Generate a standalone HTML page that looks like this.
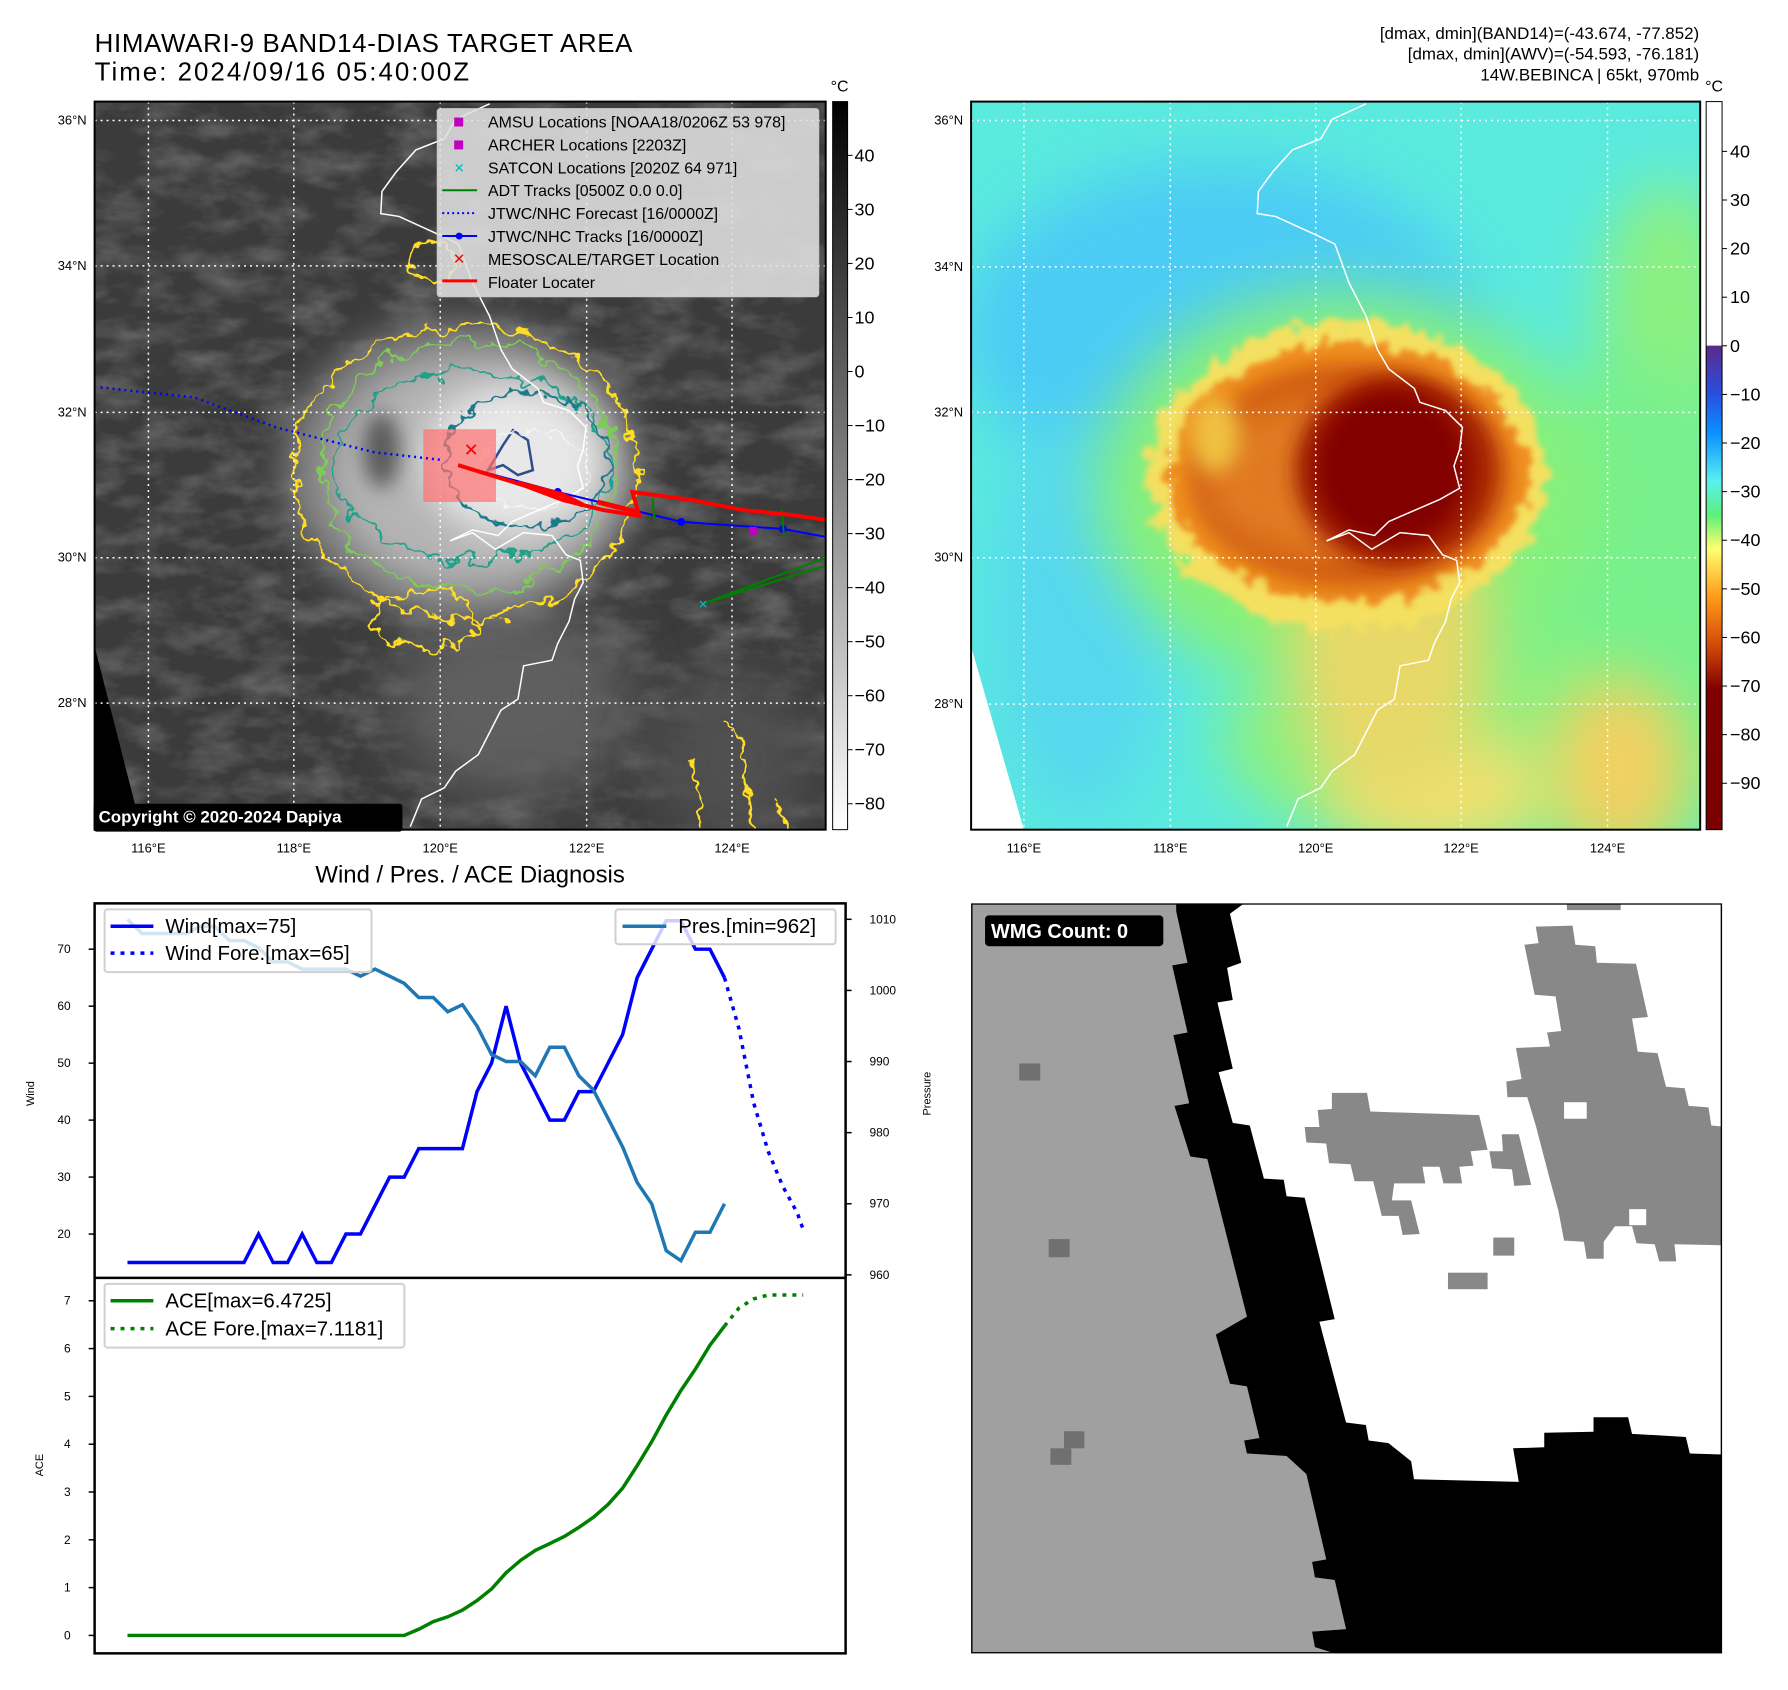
<!DOCTYPE html>
<html><head><meta charset="utf-8"><style>
html,body{margin:0;padding:0;background:#fff;}
svg{display:block;font-family:"Liberation Sans","DejaVu Sans",sans-serif;}
</style></head><body>
<svg id="root" width="1788" height="1690" viewBox="0 0 1788 1690" xmlns="http://www.w3.org/2000/svg">
<defs>
  <filter id="b30" x="-50%" y="-50%" width="200%" height="200%"><feGaussianBlur stdDeviation="30"/></filter>
  <filter id="b18" x="-50%" y="-50%" width="200%" height="200%"><feGaussianBlur stdDeviation="18"/></filter>
  <filter id="b10" x="-50%" y="-50%" width="200%" height="200%"><feGaussianBlur stdDeviation="10"/></filter>
  <filter id="rough" x="-20%" y="-20%" width="140%" height="140%">
    <feTurbulence type="fractalNoise" baseFrequency="0.05" numOctaves="3" seed="3" result="n"/>
    <feDisplacementMap in="SourceGraphic" in2="n" scale="30" xChannelSelector="R" yChannelSelector="G"/>
  </filter>
  <filter id="rough2" x="-20%" y="-20%" width="140%" height="140%">
    <feTurbulence type="fractalNoise" baseFrequency="0.08" numOctaves="2" seed="7" result="n"/>
    <feDisplacementMap in="SourceGraphic" in2="n" scale="18" xChannelSelector="R" yChannelSelector="G"/>
  </filter>
  <filter id="roughBlur" x="-30%" y="-30%" width="160%" height="160%">
    <feTurbulence type="fractalNoise" baseFrequency="0.06" numOctaves="3" seed="5" result="n"/>
    <feDisplacementMap in="SourceGraphic" in2="n" scale="34" xChannelSelector="R" yChannelSelector="G" result="d"/>
    <feGaussianBlur in="d" stdDeviation="3"/>
  </filter>
  <filter id="noise" x="0" y="0" width="100%" height="100%">
    <feTurbulence type="fractalNoise" baseFrequency="0.02 0.04" numOctaves="4" seed="11"/>
    <feColorMatrix type="matrix" values="0 0 0 0 1  0 0 0 0 1  0 0 0 0 1  0 0 0 0.45 -0.18"/>
  </filter>
  <linearGradient id="cbGray" x1="0" y1="0" x2="0" y2="1">
    <stop offset="0" stop-color="#000"/><stop offset="1" stop-color="#fff"/>
  </linearGradient>
  <linearGradient id="cbJet" x1="0" y1="0" x2="0" y2="1">
    <stop offset="0" stop-color="#5a2a8c"/>
    <stop offset="0.1" stop-color="#2a4ee0"/>
    <stop offset="0.18" stop-color="#0a90ff"/>
    <stop offset="0.28" stop-color="#58f0f0"/>
    <stop offset="0.35" stop-color="#5cf07a"/>
    <stop offset="0.42" stop-color="#ffff70"/>
    <stop offset="0.52" stop-color="#ff9a18"/>
    <stop offset="0.62" stop-color="#d04a08"/>
    <stop offset="0.71" stop-color="#800000"/>
    <stop offset="1" stop-color="#7a0000"/>
  </linearGradient>
  <clipPath id="clipL"><rect x="0" y="0" width="734" height="731"/></clipPath>
  <clipPath id="clipR"><rect x="0" y="0" width="732" height="731"/></clipPath>
</defs>
<g transform="scale(0.996)">

<text x="95" y="52" font-size="26" textLength="540">HIMAWARI-9 BAND14-DIAS TARGET AREA</text>
<text x="95" y="81" font-size="26" textLength="376">Time: 2024/09/16 05:40:00Z</text>
<text x="1706" y="39" font-size="17" text-anchor="end">[dmax, dmin](BAND14)=(-43.674, -77.852)</text>
<text x="1706" y="60" font-size="17" text-anchor="end">[dmax, dmin](AWV)=(-54.593, -76.181)</text>
<text x="1706" y="81" font-size="17" text-anchor="end">14W.BEBINCA | 65kt, 970mb</text>

<g transform="translate(95,102)">
 <g clip-path="url(#clipL)">
  <rect width="734" height="731" fill="#3b3b3b"/>
  <rect width="734" height="731" filter="url(#noise)"/>
  <ellipse cx="420" cy="600" rx="120" ry="100" fill="#5e5e5e" filter="url(#b30)"/>
  <ellipse cx="640" cy="660" rx="80" ry="90" fill="#505050" filter="url(#b30)"/>
  <ellipse cx="368" cy="370" rx="180" ry="150" fill="#7e7e7e" filter="url(#b18)"/>
  <ellipse cx="380" cy="372" rx="145" ry="118" fill="#b4b4b4" filter="url(#b18)"/>
  <ellipse cx="420" cy="360" rx="90" ry="75" fill="#e8e8e8" filter="url(#b18)"/>
  <ellipse cx="288" cy="350" rx="18" ry="38" fill="#5a5a5a" filter="url(#b10)"/>
  <ellipse cx="372" cy="372" rx="172" ry="148" fill="none" stroke="#ffdd22" stroke-width="2.5" filter="url(#rough)"/>
  <ellipse cx="340" cy="160" rx="22" ry="20" fill="none" stroke="#ffdd22" stroke-width="2.5" filter="url(#rough2)"/>
  <ellipse cx="330" cy="520" rx="50" ry="30" fill="none" stroke="#ffdd22" stroke-width="2.5" filter="url(#rough)"/>
  <path d="M630 620 L650 640 L660 731 M600 660 L610 731 M680 700 L700 731" fill="none" stroke="#ffdd22" stroke-width="2.5" filter="url(#rough2)"/>
  <ellipse cx="376" cy="366" rx="150" ry="125" fill="none" stroke="#7ccc55" stroke-width="2.5" filter="url(#rough)"/>
  <ellipse cx="380" cy="366" rx="140" ry="95" fill="none" stroke="#24a08a" stroke-width="2.5" filter="url(#rough)"/>
  <ellipse cx="434" cy="360" rx="82" ry="68" fill="none" stroke="#1f7a8c" stroke-width="2.5" filter="url(#rough2)"/>
  <path d="M395 370 L410 345 L420 330 L435 340 L440 370 L425 375 L410 365 Z" fill="none" stroke="#2f4d8c" stroke-width="2.5"/>
  <ellipse cx="440" cy="370" rx="55" ry="40" fill="none" stroke="#f4f4f4" stroke-width="1.5" filter="url(#rough2)"/>
  <polygon points="0,547 47,731 0,731" fill="#000"/>
  <polyline id="coastL" fill="none" stroke="#fff" stroke-width="1.5"/>
  <g stroke="#fff" stroke-width="1.5" stroke-dasharray="2 4">
   <line x1="54" y1="0" x2="54" y2="731"/><line x1="200" y1="0" x2="200" y2="731"/><line x1="347" y1="0" x2="347" y2="731"/><line x1="494" y1="0" x2="494" y2="731"/><line x1="640" y1="0" x2="640" y2="731"/>
   <line x1="0" y1="19" x2="734" y2="19"/><line x1="0" y1="165" x2="734" y2="165"/><line x1="0" y1="312" x2="734" y2="312"/><line x1="0" y1="458" x2="734" y2="458"/><line x1="0" y1="604" x2="734" y2="604"/>
  </g>
  <rect x="330" y="329" width="73" height="73" fill="#ff7070" fill-opacity="0.7"/>
  <polyline points="6,287 100,297 182,327 280,352 350,360" fill="none" stroke="#0000ff" stroke-width="2.5" stroke-dasharray="2 4"/>
  <polyline points="365,365 465,392 589,422 691,429 734,437" fill="none" stroke="#0000ff" stroke-width="2"/>
  <g fill="#0000ff"><circle cx="465" cy="392" r="4"/><circle cx="589" cy="422" r="4"/><circle cx="691" cy="429" r="4"/></g>
  <path d="M611,504 L734,458 M611,504 L734,466 M560,398 L562,420 M690,410 L692,435" fill="none" stroke="#008000" stroke-width="2"/>
  <polyline points="365,365 430,385 470,400 510,410 547,416 540,392 600,400 650,410 700,415 734,420" fill="none" stroke="#ff0000" stroke-width="4"/>
  <path d="M425,383 L470,395 L490,405 M505,402 L545,412" stroke="#ff0000" stroke-width="5" fill="none"/>
  <text x="378" y="356" font-size="18" fill="#ff0000" font-weight="bold" text-anchor="middle">✕</text>
  <rect x="657" y="427" width="8" height="8" fill="#c000c0"/>
  <text x="611" y="509" font-size="12" fill="#00c0c0" text-anchor="middle" font-weight="bold">✕</text>
 </g>
 <rect x="0" y="0" width="734" height="731" fill="none" stroke="#000" stroke-width="2"/>
 <g>
  <rect x="344" y="7" width="383" height="189" rx="3" fill="#e0e0e0" fill-opacity="0.88" stroke="#ccc"/>
  <g font-size="16">
   <rect x="361" y="16" width="9" height="9" fill="#c000c0"/><text x="395" y="26">AMSU Locations [NOAA18/0206Z 53 978]</text>
   <rect x="361" y="39" width="9" height="9" fill="#c000c0"/><text x="395" y="49">ARCHER Locations [2203Z]</text>
   <text x="366" y="71" font-size="13" fill="#00b8b8" text-anchor="middle" font-weight="bold">✕</text><text x="395" y="72">SATCON Locations [2020Z 64 971]</text>
   <line x1="349" y1="89" x2="384" y2="89" stroke="#008000" stroke-width="2"/><text x="395" y="95">ADT Tracks [0500Z 0.0 0.0]</text>
   <line x1="349" y1="112" x2="384" y2="112" stroke="#0000ff" stroke-width="2" stroke-dasharray="2 3"/><text x="395" y="118">JTWC/NHC Forecast [16/0000Z]</text>
   <line x1="349" y1="135" x2="384" y2="135" stroke="#0000ff" stroke-width="2"/><circle cx="366" cy="135" r="3.5" fill="#0000ff"/><text x="395" y="141">JTWC/NHC Tracks [16/0000Z]</text>
   <text x="366" y="163" font-size="15" fill="#ff0000" text-anchor="middle" font-weight="bold">✕</text><text x="395" y="164">MESOSCALE/TARGET Location</text>
   <line x1="349" y1="180" x2="384" y2="180" stroke="#ff0000" stroke-width="3"/><text x="395" y="187">Floater Locater</text>
  </g>
 </g>
 <rect x="-1" y="705" width="310" height="28" rx="3" fill="#000"/>
 <text x="4" y="724" font-size="17" font-weight="bold" fill="#fff">Copyright © 2020-2024 Dapiya</text>
</g>
<g font-size="13">
 <g text-anchor="end"><text x="87" y="125">36°N</text><text x="87" y="271">34°N</text><text x="87" y="418">32°N</text><text x="87" y="564">30°N</text><text x="87" y="710">28°N</text></g>
 <g text-anchor="middle"><text x="149" y="856">116°E</text><text x="295" y="856">118°E</text><text x="442" y="856">120°E</text><text x="589" y="856">122°E</text><text x="735" y="856">124°E</text></g>
</g>
<g>
 <rect x="836" y="102" width="15" height="731" fill="url(#cbGray)" stroke="#000" stroke-width="1"/>
 <text x="843" y="92" font-size="16" text-anchor="middle">°C</text>
 <g id="cbLticks" font-size="18"></g>
</g>

<g transform="translate(975,102)">
 <g clip-path="url(#clipR)">
  <rect width="732" height="731" fill="#5aeade"/>
  <ellipse cx="250" cy="230" rx="260" ry="170" fill="#4cccf4" filter="url(#b30)"/>
  <ellipse cx="110" cy="520" rx="90" ry="200" fill="#56d8ee" filter="url(#b30)"/>
  <ellipse cx="700" cy="220" rx="70" ry="140" fill="#8cf080" filter="url(#b30)"/>
  <ellipse cx="660" cy="520" rx="140" ry="260" fill="#78f08c" filter="url(#b30)"/>
  <ellipse cx="470" cy="640" rx="220" ry="110" fill="#8cf080" filter="url(#b30)"/>
  <ellipse cx="650" cy="670" rx="70" ry="90" fill="#f2d060" filter="url(#b30)"/>
  <ellipse cx="470" cy="690" rx="110" ry="60" fill="#f0e070" filter="url(#b30)"/>
  <ellipse cx="376" cy="390" rx="250" ry="200" fill="#86f07a" filter="url(#b30)"/>
  <ellipse cx="420" cy="540" rx="100" ry="160" fill="#e8d868" filter="url(#b30)"/>
  <ellipse cx="378" cy="376" rx="200" ry="155" fill="#f4e060" filter="url(#roughBlur)"/>
  <ellipse cx="378" cy="372" rx="180" ry="130" fill="#f09024" filter="url(#roughBlur)"/>
  <ellipse cx="380" cy="375" rx="160" ry="112" fill="#cf5a10" filter="url(#b10)"/>
  <ellipse cx="350" cy="378" rx="120" ry="80" fill="#e07a20" filter="url(#b18)"/>
  <ellipse cx="245" cy="335" rx="25" ry="38" fill="#f0c040" filter="url(#b10)"/>
  <ellipse cx="425" cy="370" rx="100" ry="95" fill="#a01c00" filter="url(#b10)"/>
  <ellipse cx="422" cy="368" rx="75" ry="78" fill="#820000" filter="url(#b10)"/>
  <polygon points="0,547 53,731 0,731" fill="#fff"/>
  <polyline id="coastR" fill="none" stroke="#fff" stroke-width="1.5"/>
  <g stroke="#fff" stroke-width="1.5" stroke-dasharray="2 4">
   <line x1="53" y1="0" x2="53" y2="731"/><line x1="200" y1="0" x2="200" y2="731"/><line x1="346" y1="0" x2="346" y2="731"/><line x1="492" y1="0" x2="492" y2="731"/><line x1="639" y1="0" x2="639" y2="731"/>
   <line x1="0" y1="19" x2="732" y2="19"/><line x1="0" y1="166" x2="732" y2="166"/><line x1="0" y1="312" x2="732" y2="312"/><line x1="0" y1="458" x2="732" y2="458"/><line x1="0" y1="605" x2="732" y2="605"/>
  </g>
 </g>
 <rect x="0" y="0" width="732" height="731" fill="none" stroke="#000" stroke-width="2"/>
</g>
<g font-size="13">
 <g text-anchor="end"><text x="967" y="125">36°N</text><text x="967" y="272">34°N</text><text x="967" y="418">32°N</text><text x="967" y="564">30°N</text><text x="967" y="711">28°N</text></g>
 <g text-anchor="middle"><text x="1028" y="856">116°E</text><text x="1175" y="856">118°E</text><text x="1321" y="856">120°E</text><text x="1467" y="856">122°E</text><text x="1614" y="856">124°E</text></g>
</g>
<g>
 <rect x="1713" y="102" width="16" height="245" fill="#fff"/>
 <rect x="1713" y="347" width="16" height="486" fill="url(#cbJet)"/>
 <rect x="1713" y="102" width="16" height="731" fill="none" stroke="#000" stroke-width="1"/>
 <text x="1721" y="92" font-size="16" text-anchor="middle">°C</text>
 <g id="cbRticks" font-size="18"></g>
</g>

<text x="472" y="886" font-size="24" text-anchor="middle">Wind / Pres. / ACE Diagnosis</text>
<g id="chart">
 <rect x="95" y="907" width="754" height="753" fill="#fff"/>
 <g id="series"></g>
 <line x1="95" y1="1283" x2="849" y2="1283" stroke="#000" stroke-width="2.5"/>
 <rect x="95" y="907" width="754" height="753" fill="none" stroke="#000" stroke-width="2.5"/>
 <g id="axes" font-size="12"></g>
 <text transform="translate(34,1098) rotate(-90)" font-size="11" text-anchor="middle">Wind</text>
 <text transform="translate(934,1098) rotate(-90)" font-size="11" text-anchor="middle">Pressure</text>
 <text transform="translate(43,1471) rotate(-90)" font-size="11" text-anchor="middle">ACE</text>
 <g>
  <rect x="105" y="913" width="268" height="63" rx="3" fill="#fff" fill-opacity="0.8" stroke="#d0d0d0" stroke-width="2"/>
  <line x1="111" y1="930" x2="154" y2="930" stroke="#0000ff" stroke-width="3.5"/>
  <line x1="111" y1="957" x2="154" y2="957" stroke="#0000ff" stroke-width="3.5" stroke-dasharray="4 6"/>
  <text x="166" y="937" font-size="20.5">Wind[max=75]</text>
  <text x="166" y="964" font-size="20.5">Wind Fore.[max=65]</text>
 </g>
 <g>
  <rect x="618" y="913" width="221" height="35" rx="3" fill="#fff" fill-opacity="0.8" stroke="#d0d0d0" stroke-width="2"/>
  <line x1="625" y1="930" x2="669" y2="930" stroke="#1f77b4" stroke-width="3.5"/>
  <text x="681" y="937" font-size="20.5">Pres.[min=962]</text>
 </g>
 <g>
  <rect x="105" y="1289" width="301" height="64" rx="3" fill="#fff" fill-opacity="0.8" stroke="#d0d0d0" stroke-width="2"/>
  <line x1="111" y1="1306" x2="154" y2="1306" stroke="#008000" stroke-width="3.5"/>
  <line x1="111" y1="1334" x2="154" y2="1334" stroke="#008000" stroke-width="3.5" stroke-dasharray="4 6"/>
  <text x="166" y="1313" font-size="20.5">ACE[max=6.4725]</text>
  <text x="166" y="1341" font-size="20.5">ACE Fore.[max=7.1181]</text>
 </g>
</g>

<svg x="975" y="907" width="754" height="753" viewBox="123 45 1326 1452" preserveAspectRatio="none">
 <rect x="123" y="45" width="1326" height="1452" fill="#fff"/>
 <polygon fill="#a0a0a0" points="123,45 485,45 485,60 505,160 478,165 505,295 480,300 508,432 482,437 510,535 540,540 610,845 555,880 580,975 610,980 632,1080 605,1085 610,1110 680,1115 715,1150 750,1315 725,1320 730,1350 765,1355 785,1450 725,1455 730,1485 765,1497 123,1497"/>
 <polygon fill="#000" points="485,45 485,60 505,160 478,165 505,295 480,300 508,432 482,437 510,535 540,540 610,845 555,880 580,975 610,980 632,1080 605,1085 610,1110 680,1115 715,1150 750,1315 725,1320 730,1350 765,1355 785,1450 725,1455 730,1485 765,1497 1449,1497 1449,1112 1392,1110 1385,1078 1290,1072 1283,1040 1222,1040 1222,1068 1135,1070 1135,1098 1080,1100 1090,1165 905,1160 900,1125 860,1090 825,1085 820,1055 785,1050 738,855 765,850 712,615 680,612 675,580 640,578 615,475 585,470 560,372 585,365 558,237 585,232 575,170 600,160 580,65 605,45"/>
 <g fill="#888">
  <rect x="1175" y="45" width="95" height="13"/>
  <polygon points="1120,90 1185,88 1190,125 1225,128 1228,160 1297,162 1318,265 1290,268 1300,332 1335,335 1350,400 1383,403 1390,437 1425,440 1430,475 1449,477 1449,707 1365,705 1368,738 1338,738 1330,705 1298,703 1290,670 1260,670 1240,700 1240,733 1210,733 1205,700 1170,698 1160,640 1145,580 1120,475 1105,420 1070,420 1068,390 1095,385 1085,325 1145,322 1140,295 1165,292 1155,225 1118,222 1100,125 1125,122"/>
  <polygon points="760,412 822,412 828,448 1020,455 1035,522 1005,525 1010,553 985,555 990,587 957,587 950,555 920,555 925,587 870,587 866,620 900,620 915,685 885,687 878,650 848,650 833,583 800,583 793,550 755,548 750,510 715,508 712,478 738,478 735,445 760,443"/>
  <polygon points="1060,492 1090,492 1112,590 1082,592 1078,560 1043,558 1038,525 1062,525"/>
  <rect x="1045" y="692" width="37" height="35"/>
  <rect x="965" y="760" width="70" height="32"/>
 </g>
 <g fill="#fff"><rect x="1170" y="430" width="40" height="32"/><rect x="1285" y="637" width="30" height="31"/></g>
 <g fill="#707070">
  <rect x="208" y="355" width="37" height="33"/><rect x="260" y="695" width="37" height="35"/><rect x="287" y="1067" width="36" height="33"/><rect x="263" y="1100" width="37" height="32"/>
 </g>
 <rect x="123" y="45" width="1326" height="1452" fill="none" stroke="#000" stroke-width="5"/>
</svg>
<rect x="989" y="919" width="179" height="31" rx="4" fill="#000"/>
<text x="995" y="942" font-size="20" font-weight="bold" fill="#fff">WMG Count: 0</text>
</g>
</svg>

<script>
const wind = [15,15,15,15,15,15,15,15,15,20,15,15,20,15,15,20,20,25,30,30,35,35,35,35,45,50,60,50,45,40,40,45,45,50,55,65,70,75,75,70,70,65];
const windFcstT = [41,42,43,44,45,46,46.4];
const windFcst = [65,56,43,34.5,28.4,23.7,20.8];
const pres = [1010,1008,1008,1008,1008,1009,1009,1007,1007,1006,1004,1004,1003,1003,1003,1003,1002,1003,1002,1001,999,999,997,998,995,991,990,990,988,992,992,988,986,982,978,973,970,963.4,962,966,966,970];
const ace = [0,0,0,0,0,0,0,0,0,0,0,0,0,0,0,0,0,0,0,0,0.13,0.29,0.39,0.53,0.73,0.97,1.31,1.57,1.78,1.92,2.07,2.26,2.47,2.74,3.08,3.55,4.05,4.61,5.12,5.57,6.07,6.47];
const aceFcstT = [41,42,43,44,45,46,46.4];
const aceFcst = [6.47,6.85,7.04,7.12,7.12,7.12,7.12];
const windTicks = [20,30,40,50,60,70];
const presTicks = [960,970,980,990,1000,1010];
const aceTicks = [0,1,2,3,4,5,6,7];
const irTicks = [40,30,20,10,0,-10,-20,-30,-40,-50,-60,-70,-80];
const awvTicks = [40,30,20,10,0,-10,-20,-30,-40,-50,-60,-70,-80,-90];

const NS = 'http://www.w3.org/2000/svg';
function xT(t){ return 128 + t*14.62; }
function yW(v){ return 953 + (70 - v)*5.72; }
function yP(p){ return 923 + (1010 - p)*7.14; }
function yA(a){ return 1642 - a*48; }
function yIR(v){ return 156 + (40 - v)*5.425; }
function yAWV(v){ return 152 + (40 - v)*4.88; }

function mk(tag, attrs, parent){
  const e = document.createElementNS(NS, tag);
  for (const k in attrs) e.setAttribute(k, attrs[k]);
  parent.appendChild(e); return e;
}
function pts(ts, vs, fy){ return vs.map((v,i)=>xT(ts?ts[i]:i).toFixed(1)+','+fy(v).toFixed(1)).join(' '); }

const series = document.getElementById('series');
let e;
e = mk('polyline', {points: pts(null, wind, yW), fill:'none', stroke:'#0000ff', 'stroke-width':3.5}, series);


e = mk('polyline', {points: pts(windFcstT, windFcst, yW), fill:'none', stroke:'#0000ff', 'stroke-width':3.5, 'stroke-dasharray':'4 6'}, series);


e = mk('polyline', {points: pts(null, pres, yP), fill:'none', stroke:'#1f77b4', 'stroke-width':3.5}, series);


e = mk('polyline', {points: pts(null, ace, yA), fill:'none', stroke:'#008000', 'stroke-width':3.5}, series);


e = mk('polyline', {points: pts(aceFcstT, aceFcst, yA), fill:'none', stroke:'#008000', 'stroke-width':3.5, 'stroke-dasharray':'4 6'}, series);



const axes = document.getElementById('axes');
windTicks.forEach(v=>{
  mk('line',{x1:89,x2:95,y1:yW(v),y2:yW(v),stroke:'#000','stroke-width':1.5},axes);
  const t = mk('text',{x:71,y:yW(v)+4,'text-anchor':'end'},axes); t.textContent=v;
  
  
});
presTicks.forEach(v=>{
  mk('line',{x1:849,x2:855,y1:yP(v),y2:yP(v),stroke:'#000','stroke-width':1.5},axes);
  const t = mk('text',{x:873,y:yP(v)+4},axes); t.textContent=v;
  
  
});
aceTicks.forEach(v=>{
  mk('line',{x1:89,x2:95,y1:yA(v),y2:yA(v),stroke:'#000','stroke-width':1.5},axes);
  const t = mk('text',{x:71,y:yA(v)+4,'text-anchor':'end'},axes); t.textContent=v;
  
  
});
const cbl = document.getElementById('cbLticks');
irTicks.forEach(v=>{
  mk('line',{x1:851,x2:856,y1:yIR(v),y2:yIR(v),stroke:'#000'},cbl);
  const t = mk('text',{x:858,y:yIR(v)+6},cbl); t.textContent = v<0 ? '\u2212'+(-v) : v;
  
  
});
const cbr = document.getElementById('cbRticks');
awvTicks.forEach(v=>{
  mk('line',{x1:1729,x2:1734,y1:yAWV(v),y2:yAWV(v),stroke:'#000'},cbr);
  const t = mk('text',{x:1737,y:yAWV(v)+6},cbr); t.textContent = v<0 ? '\u2212'+(-v) : v;
  
  
});

const coast = [[820,187],[760,215],[740,250],[690,270],[655,310],[630,345],[628,385],[660,390],[735,425],[765,440],[790,510],[820,570],[840,630],[860,665],[905,700],[915,725],[960,740],[990,770],[985,810],[975,840],[985,880],[950,900],[860,940],[835,965],[790,955],[750,975],[790,960],[830,990],[880,960],[930,965],[955,1000],[980,1010],[985,1050],[970,1080],[960,1120],[940,1160],[930,1190],[880,1200],[870,1260],[840,1280],[820,1320],[800,1360],[760,1390],[740,1420],[700,1440],[680,1490]];
const cstr = coast.map(p=>((p[0]-123)*0.569).toFixed(1)+','+((p[1]-183)*0.557).toFixed(1)).join(' ');
document.getElementById('coastL').setAttribute('points', cstr);
document.getElementById('coastR').setAttribute('points', cstr);
</script>
</body></html>
